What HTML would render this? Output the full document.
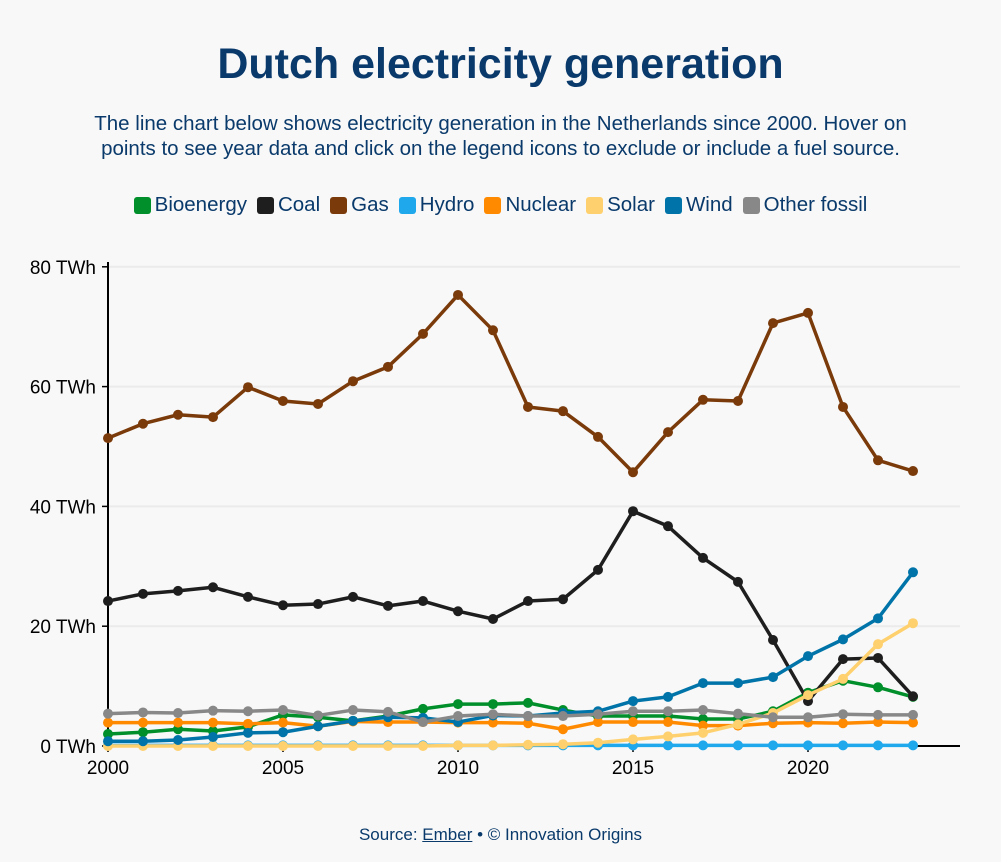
<!DOCTYPE html>
<html><head><meta charset="utf-8">
<style>
body{margin:0;background:#f8f8f8;font-family:"Liberation Sans",sans-serif;color:#0a3a6b;}
#wrap{width:1001px;height:862px;position:relative;overflow:hidden;}
h1{position:absolute;top:40px;left:0;width:1001px;text-align:center;margin:0;font-size:43px;font-weight:bold;color:#0a3a6b;}
#sub{position:absolute;top:111px;left:0;width:1001px;text-align:center;font-size:20.5px;line-height:25px;white-space:nowrap;}
#legend{position:absolute;top:193px;left:0;width:1001px;display:flex;justify-content:center;gap:10px;font-size:20.5px;}
.li{display:flex;align-items:center;gap:4px;cursor:pointer}
.sw{width:17px;height:17px;border-radius:3px;display:inline-block}
#src{position:absolute;top:825px;left:0;width:1001px;text-align:center;font-size:17px;}
#src a{color:#0a3a6b;text-decoration:underline;}
svg{position:absolute;left:0;top:0}
</style></head><body>
<div id="wrap">
<h1>Dutch electricity generation</h1>
<div id="sub">The line chart below shows electricity generation in the Netherlands since 2000. Hover on<br>points to see year data and click on the legend icons to exclude or include a fuel source.</div>
<div id="legend"></div>
<svg id="chart" width="1001" height="862"></svg>
<div id="src">Source: <a>Ember</a> • © Innovation Origins</div>
</div>
<script>
const years=[2000,2001,2002,2003,2004,2005,2006,2007,2008,2009,2010,2011,2012,2013,2014,2015,2016,2017,2018,2019,2020,2021,2022,2023];
const seriesNames=["Bioenergy","Coal","Gas","Hydro","Nuclear","Solar","Wind","Other fossil"];
const seriesColors=["#008f2a","#1e1e1e","#7a3a0a","#1fa8ec","#ff8a00","#ffd06e","#0074a8","#888888"];
const bioenergy=[2.0,2.3,2.8,2.5,3.2,5.2,4.8,4.2,5.0,6.2,7.0,7.0,7.2,6.0,5.0,5.0,5.0,4.5,4.5,5.8,8.9,10.9,9.8,8.2];
const coal=[24.2,25.4,25.9,26.5,24.9,23.5,23.7,24.9,23.4,24.2,22.5,21.2,24.2,24.5,29.4,39.2,36.7,31.4,27.4,17.7,7.5,14.5,14.7,8.3];
const gas=[51.4,53.8,55.3,54.9,59.9,57.6,57.1,60.9,63.3,68.8,75.3,69.4,56.6,55.9,51.6,45.7,52.4,57.8,57.6,70.6,72.3,56.6,47.7,45.9];
const hydro=[0.1,0.1,0.1,0.1,0.1,0.1,0.1,0.1,0.1,0.1,0.1,0.1,0.1,0.1,0.1,0.1,0.1,0.1,0.1,0.1,0.1,0.1,0.1,0.1];
const nuclear=[3.9,3.9,3.9,3.9,3.7,3.9,3.3,4.1,4.0,4.0,3.9,3.9,3.8,2.8,4.0,4.0,4.0,3.4,3.4,3.8,3.9,3.8,4.0,3.9];
const solar=[0,0,0,0,0,0,0,0,0,0,0.1,0.1,0.2,0.3,0.55,1.1,1.6,2.2,3.6,5.5,8.5,11.2,17.0,20.5];
const wind=[0.8,0.8,1.0,1.5,2.2,2.3,3.3,4.2,4.8,4.7,4.0,5.1,5.0,5.5,5.8,7.5,8.2,10.5,10.5,11.5,15.0,17.8,21.3,29.0];
const otherFossil=[5.4,5.6,5.5,5.9,5.8,6.0,5.1,6.0,5.7,4.0,5.0,5.3,5.0,5.0,5.3,5.8,5.8,6.0,5.4,4.8,4.8,5.3,5.2,5.2];
const seriesData=[bioenergy,coal,gas,hydro,nuclear,solar,wind,otherFossil];
const yTicks=[0,20,40,60,80];
const xTicks=[2000,2005,2010,2015,2020];

const NS="http://www.w3.org/2000/svg";
const svg=document.getElementById('chart');
const x=y=>108+(y-2000)*35;
const yS=v=>746-v*5.99;
function mk(t,a){const e=document.createElementNS(NS,t);for(const k in a)e.setAttribute(k,a[k]);return e;}
yTicks.forEach(t=>{
  const g=mk('line',{x1:108,x2:960,y1:yS(t),y2:yS(t),stroke:'#ebebeb','stroke-width':2});
  
  
  svg.appendChild(g);
  const tk=mk('line',{x1:102,x2:108,y1:yS(t),y2:yS(t),stroke:'#000','stroke-width':1.5});
  svg.appendChild(tk);
  const lb=mk('text',{x:96,y:yS(t)+7,'text-anchor':'end','font-size':19,fill:'#000','font-family':'Liberation Sans, sans-serif'});
  lb.textContent=t+' TWh';
  
  
  svg.appendChild(lb);
});
xTicks.forEach(t=>{
  const tk=mk('line',{x1:x(t),x2:x(t),y1:746,y2:752,stroke:'#000','stroke-width':1.5});
  svg.appendChild(tk);
  const lb=mk('text',{x:x(t),y:774,'text-anchor':'middle','font-size':19,fill:'#000','font-family':'Liberation Sans, sans-serif'});
  lb.textContent=t;
  
  
  svg.appendChild(lb);
});
const ya=mk('line',{x1:108,x2:108,y1:262,y2:746,stroke:'#000','stroke-width':2});


svg.appendChild(ya);
const xa=mk('line',{x1:108,x2:960,y1:746,y2:746,stroke:'#000','stroke-width':2});


svg.appendChild(xa);
const legend=document.getElementById('legend');
seriesData.forEach((d,i)=>{
  const g=mk('g',{});
  
  
  const pts=d.map((v,j)=>x(years[j])+','+yS(v)).join(' ');
  const pl=mk('polyline',{points:pts,fill:'none',stroke:seriesColors[i],'stroke-width':3.5,'stroke-linejoin':'round'});
  
  
  g.appendChild(pl);
  d.forEach((v,j)=>{
    const c=mk('circle',{cx:x(years[j]),cy:yS(v),r:5,fill:seriesColors[i]});
    
    
    g.appendChild(c);
  });
  svg.appendChild(g);
  const li=document.createElement('div');li.className='li';
  
  
  li.innerHTML='<span class="sw" style="background:'+seriesColors[i]+'"></span>'+seriesNames[i];
  legend.appendChild(li);
});
</script>
</body></html>
